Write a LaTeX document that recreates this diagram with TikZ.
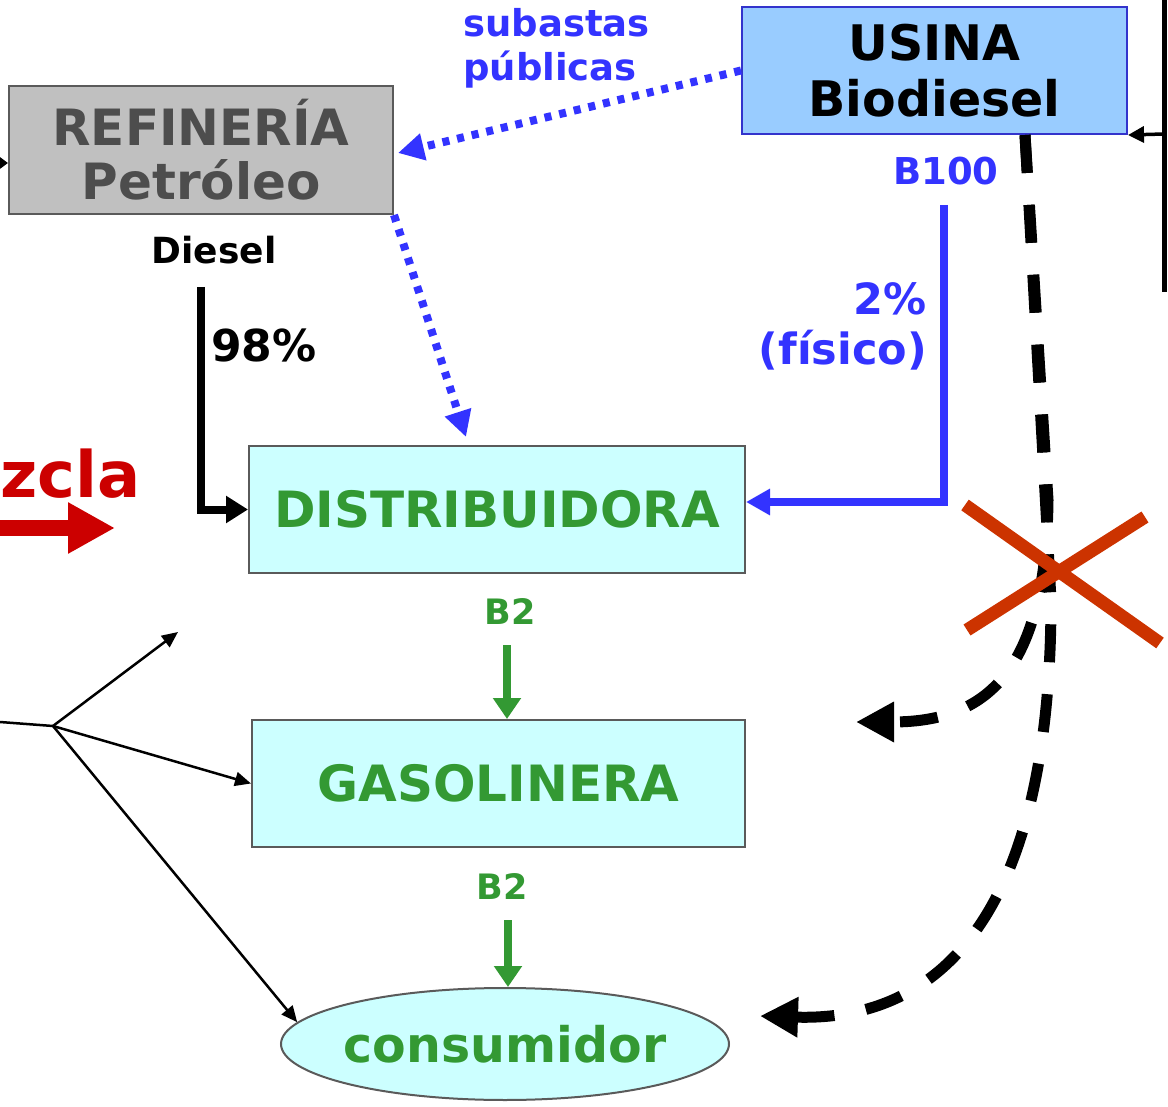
\documentclass[tikz,border=0pt]{standalone}
\usepackage{fontspec}
\setmainfont{DejaVu Sans}
\usetikzlibrary{arrows.meta,shapes.geometric}
\definecolor{refgray}{HTML}{C0C0C0}
\definecolor{reftext}{HTML}{4D4D4D}
\definecolor{boxline}{HTML}{5A5A5A}
\definecolor{usinafill}{HTML}{99CCFF}
\definecolor{usinaline}{HTML}{3333CC}
\definecolor{cyanfill}{HTML}{CCFFFF}
\definecolor{greenc}{HTML}{339933}
\definecolor{bluec}{HTML}{3333FF}
\definecolor{redc}{HTML}{CC0000}
\definecolor{crossc}{HTML}{CC3300}
\newcommand{\fsz}[2]{\fontsize{#1}{#2}\selectfont\bfseries}
\begin{document}
\begin{tikzpicture}[x=1pt,y=-1pt,
  box/.style={draw=boxline, line width=2pt, inner sep=0pt, align=center},
  lab/.style={inner sep=0pt, anchor=base},
  blackarrow/.style={line width=8pt, -{Triangle[length=22pt,width=26pt]}},
  bluearrow/.style={draw=bluec, line width=8pt, -{Triangle[length=24pt,width=25pt]}},
  greenarrow/.style={draw=greenc, line width=7.5pt, -{Triangle[length=21pt,width=27pt]}},
  dotarrow/.style={draw=bluec, line width=8pt, dash pattern=on 7pt off 8pt, -{Triangle[length=26pt,width=26pt]}},
  dasharrow/.style={line width=11pt, dash pattern=on 38pt off 32pt, -{Triangle[length=38pt,width=38pt]}},
  thinarrow/.style={line width=2.5pt, -{Triangle[length=16pt,width=14pt]}},
  crossline/.style={draw=crossc, line width=13pt},
]
\useasboundingbox (0,0) rectangle (1168,1107);

% boxes
\node[box, fill=refgray, text=reftext, minimum width=384pt, minimum height=128pt, font=\fsz{50}{54}] (ref) at (201,150) {REFINERÍA\\Petróleo};
\node[box, draw=usinaline, fill=usinafill, text=black, minimum width=385pt, minimum height=127pt, font=\fsz{49}{56}] (usina) at (934.5,70.5) {USINA\\Biodiesel};
\node[box, fill=cyanfill, text=greenc, minimum width=496pt, minimum height=127pt, font=\fsz{50}{56}] (dist) at (497,509.5) {DISTRIBUIDORA};
\node[box, fill=cyanfill, text=greenc, minimum width=493pt, minimum height=127pt, font=\fsz{50}{56}] (gas) at (498.5,783.5) {GASOLINERA};
\node[box, ellipse, inner xsep=-60pt, fill=cyanfill, text=greenc, minimum width=448pt, minimum height=112pt, font=\fsz{49}{56}] (cons) at (505,1044) {consumidor};

% labels
\node[lab, anchor=base west, text=bluec, font=\fsz{37}{43}] (subastas) at (463,37) {subastas};
\node[lab, anchor=base west, text=bluec, font=\fsz{37}{43}] (publicas) at (463,81) {públicas};
\node[lab, font=\fsz{36}{43}] (diesel) at (214,264) {Diesel};
\node[lab, anchor=base west, font=\fsz{44}{50}] (p98) at (211,362) {98\%};
\node[lab, text=bluec, font=\fsz{37}{44}] (b100) at (946,185) {B100};
\node[lab, anchor=base east, text=bluec, font=\fsz{43}{50}] (p2) at (927,315) {2\%};
\node[lab, anchor=base east, text=bluec, font=\fsz{43}{50}] (fisico) at (927,365) {(físico)};
\node[lab, text=greenc, font=\fsz{35}{42}] (b2a) at (510,624) {B2};
\node[lab, text=greenc, font=\fsz{35}{42}] (b2b) at (502,899) {B2};
\node[lab, anchor=base west, text=redc, font=\fsz{64}{70}] (mezcla) at (0,497) {zcla};

% coordinates
\coordinate (dstart) at (201,287);
\coordinate (bstart) at (944,205);
\coordinate (bcorner) at (944,502);
\coordinate (g1s) at (507,645);
\coordinate (g2s) at (508,920);
\coordinate (refin) at (398,153);
\coordinate (distin) at (466,437);
\coordinate (ds) at (1025,135);
\coordinate (c1end) at (856,722);
\coordinate (c2end) at (760,1016);
\coordinate (jin) at (0,722);
\coordinate (j) at (53,726);
\coordinate (jfree) at (178,632);
\coordinate (rtop) at (1164,0);
\coordinate (rbot) at (1164,292);
\coordinate (rarr) at (1164,134);
\coordinate (lin) at (0,163);
\coordinate (redstart) at (0,528);
\coordinate (redend) at (115,528);

% connectors
\draw[blackarrow] (dstart) |- (dist.west);
\draw[bluearrow] (bstart) -- (bcorner) -- (dist.east |- bcorner);
\draw[greenarrow] (g1s) -- (g1s |- gas.north);
\draw[greenarrow] (g2s) -- (g2s |- cons.north);
\draw[dotarrow] (usina.west) -- (refin);
\draw[dotarrow] (ref.south east) -- (distin);

\draw[dasharrow] (ds) -- (1048,500) .. controls (1046,680) and (980,722) .. (c1end);
\draw[dasharrow] (ds) -- (1051,600) .. controls (1051,900) and (950,1022) .. (c2end);

\draw[crossline] (965,505) -- (1160,643);
\draw[crossline] (967,630) -- (1145,517);

\draw[line width=2.5pt] (jin) -- (j);
\draw[thinarrow] (j) -- (jfree);
\draw[thinarrow] (j) -- (gas.west);
\draw[thinarrow] (j) -- (cons.174);

\draw[line width=5pt] (rtop) -- (rbot);
\draw[line width=3.5pt, -{Triangle[length=16pt,width=16pt]}] (rarr) -- (usina.south east);
\draw[line width=3.5pt, -{Triangle[length=10pt,width=14pt]}] (lin) -- (ref.west |- lin);

\draw[draw=redc, line width=16pt, -{Triangle[length=47pt,width=48pt]}] (redstart) -- (redend);
\end{tikzpicture}
\end{document}
